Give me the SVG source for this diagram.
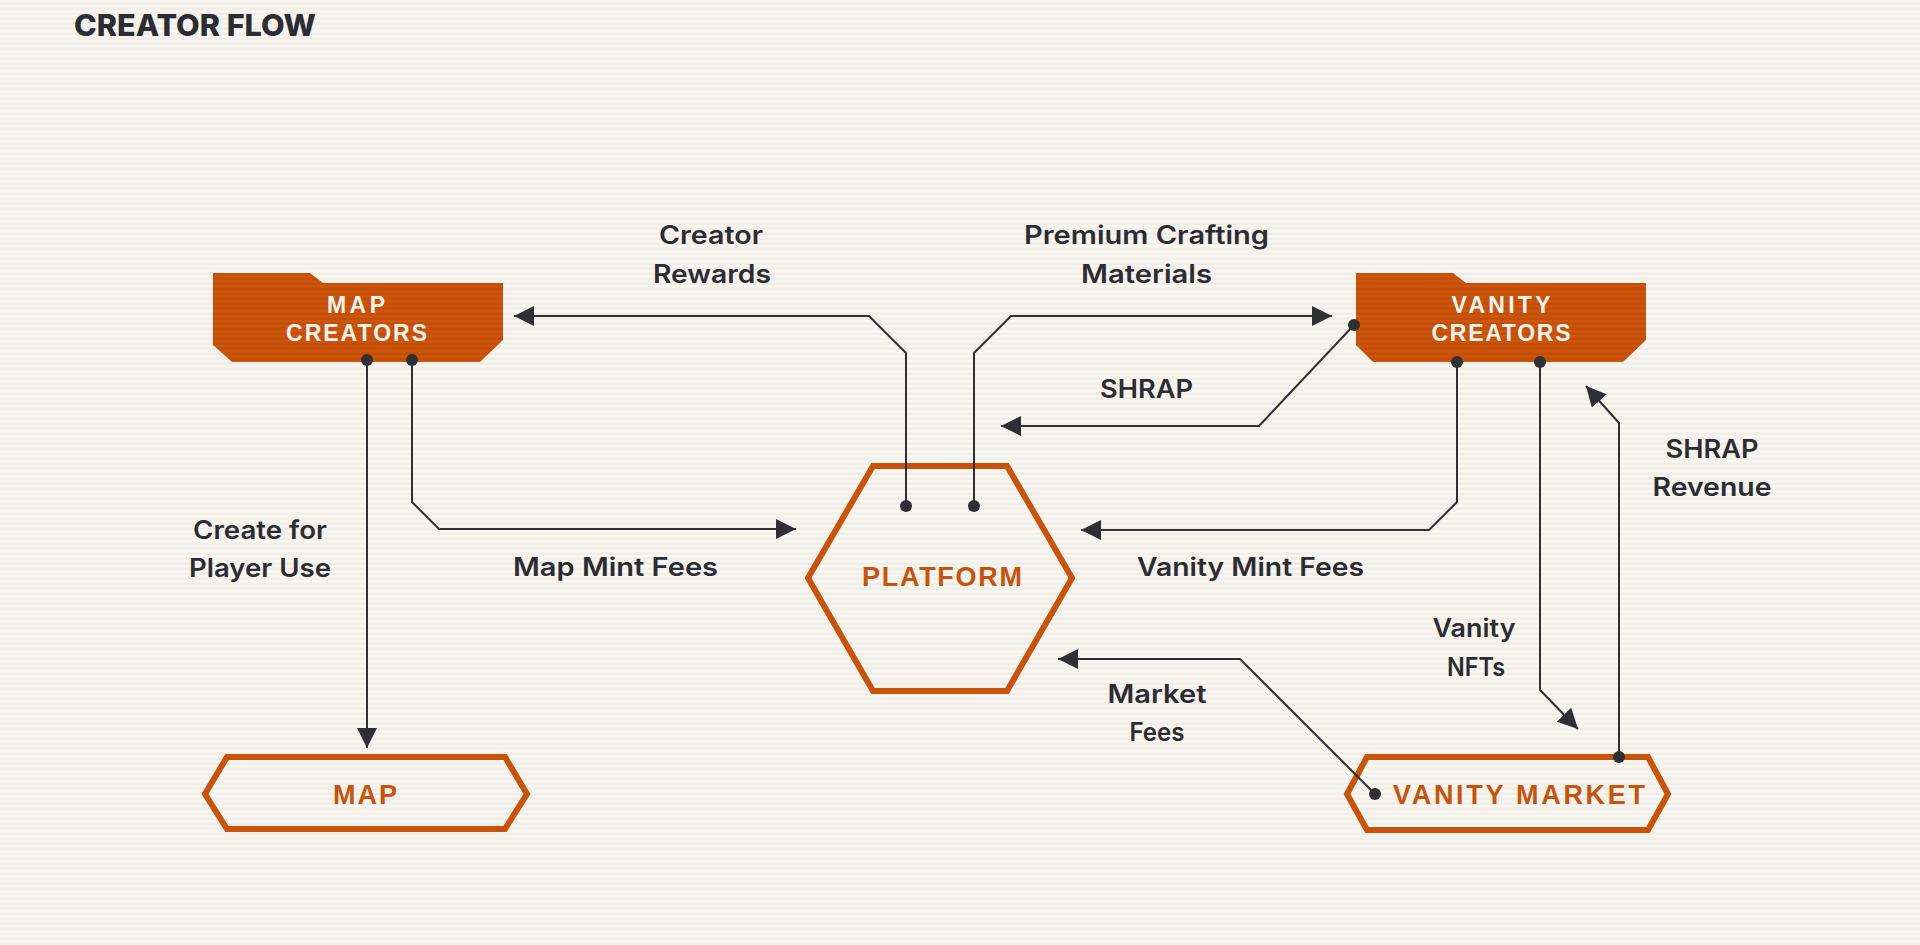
<svg xmlns="http://www.w3.org/2000/svg" width="1920" height="945" viewBox="0 0 1920 945">
  <defs>
    <pattern id="bg" width="8" height="5" patternUnits="userSpaceOnUse">
      <rect width="8" height="5" fill="#f1eee8"/>
      <rect y="0" width="8" height="2.5" fill="#f8f6f1"/>
    </pattern>
    <pattern id="or" width="8" height="5" patternUnits="userSpaceOnUse">
      <rect width="8" height="5" fill="#c44e07"/>
      <rect y="0" width="8" height="2.5" fill="#cb560c"/>
    </pattern>
    <marker id="arr" markerUnits="userSpaceOnUse" markerWidth="20" markerHeight="20" refX="20" refY="10" orient="auto" viewBox="0 0 20 20">
      <path d="M0,0 L20,10 L0,20 Z" fill="#2f3033"/>
    </marker>
    <style>
      .lbl { font-family: "Inter", "Liberation Sans", sans-serif; font-weight: 600; font-size: 25px; fill: #2b2d32; text-anchor: middle; }
      .ttl { font-family: "Inter", "Liberation Sans", sans-serif; font-weight: 800; font-size: 30px; fill: #2b2d32; }
      .wt { font-family: "Liberation Sans", sans-serif; font-weight: 700; font-size: 23px; fill: #fbf4ee; text-anchor: middle; }
      .ot { font-family: "Liberation Sans", sans-serif; font-weight: 700; font-size: 27px; fill: #c9530b; text-anchor: middle; }
      .hex { fill: none; stroke: #c9530b; stroke-width: 6; stroke-linejoin: miter; }
      .box { fill: url(#or); }
      .cn { fill: none; stroke: #2f3033; stroke-width: 2; }
      .dot { fill: #2f3033; }
    </style>
  </defs>

  <rect width="1920" height="945" fill="url(#bg)"/>

  <text class="ttl" x="74" y="36" textLength="242" lengthAdjust="spacingAndGlyphs">CREATOR FLOW</text>

  <g id="map-creators">
    <polygon class="box" points="213,273 310,273 323,283 503,283 503,340 480,362 232,362 213,345"/>
    <text class="wt" x="356" y="313" textLength="58" lengthAdjust="spacing">MAP</text>
    <text class="wt" x="356.5" y="341" textLength="141" lengthAdjust="spacing">CREATORS</text>
  </g>

  <g id="vanity-creators">
    <polygon class="box" points="1356,273 1453,273 1466,283 1646,283 1646,340 1623,362 1373,362 1356,345"/>
    <text class="wt" x="1501" y="313" textLength="99" lengthAdjust="spacing">VANITY</text>
    <text class="wt" x="1501" y="341" textLength="139" lengthAdjust="spacing">CREATORS</text>
  </g>

  <g id="platform">
    <polygon class="hex" points="873,466 1007,466 1072,578 1007,691 873,691 808,578"/>
    <text class="ot" x="942" y="586" textLength="160" lengthAdjust="spacing">PLATFORM</text>
  </g>

  <g id="map">
    <polygon class="hex" points="227,757 505,757 527,794 505,829 227,829 205,794"/>
    <text class="ot" x="365" y="804" textLength="64" lengthAdjust="spacing">MAP</text>
  </g>

  <g id="vanity-market">
    <polygon class="hex" points="1367,757 1648,757 1668,794 1648,830 1367,830 1347,794"/>
    <text class="ot" x="1519" y="804" textLength="252" lengthAdjust="spacing">VANITY MARKET</text>
  </g>

  <g id="connectors">
    <polyline class="cn" points="906,506 906,353 869,316 514,316" marker-end="url(#arr)"/>
    <circle class="dot" cx="906" cy="506" r="6"/>
    <polyline class="cn" points="974,506 974,353 1011,316 1332,316" marker-end="url(#arr)"/>
    <circle class="dot" cx="974" cy="506" r="6"/>
    <polyline class="cn" points="1354,325 1259,426 1001,426" marker-end="url(#arr)"/>
    <circle class="dot" cx="1354" cy="325" r="6"/>
    <polyline class="cn" points="412,360 412,502 439,529 796,529" marker-end="url(#arr)"/>
    <circle class="dot" cx="412" cy="360" r="6"/>
    <polyline class="cn" points="1457,362 1457,502 1429,530 1081,530" marker-end="url(#arr)"/>
    <circle class="dot" cx="1457" cy="362" r="6"/>
    <polyline class="cn" points="367,360 367,748" marker-end="url(#arr)"/>
    <circle class="dot" cx="367" cy="360" r="6"/>
    <polyline class="cn" points="1375,794 1240,659 1058,659" marker-end="url(#arr)"/>
    <circle class="dot" cx="1375" cy="794" r="6"/>
    <polyline class="cn" points="1540,362 1540,690 1578,729" marker-end="url(#arr)"/>
    <circle class="dot" cx="1540" cy="362" r="6"/>
    <polyline class="cn" points="1619,757 1619,423 1586,386" marker-end="url(#arr)"/>
    <circle class="dot" cx="1619" cy="757" r="6"/>
  </g>

  <g id="labels">
    <text class="lbl" x="711" y="244" textLength="104" lengthAdjust="spacingAndGlyphs">Creator</text>
    <text class="lbl" x="712" y="283" textLength="118" lengthAdjust="spacingAndGlyphs">Rewards</text>
    <text class="lbl" x="1146.5" y="244" textLength="245" lengthAdjust="spacingAndGlyphs">Premium Crafting</text>
    <text class="lbl" x="1146.5" y="283" textLength="131" lengthAdjust="spacingAndGlyphs">Materials</text>
    <text class="lbl" x="1146.5" y="398" textLength="93" lengthAdjust="spacingAndGlyphs">SHRAP</text>
    <text class="lbl" x="260" y="539" textLength="134" lengthAdjust="spacingAndGlyphs">Create for</text>
    <text class="lbl" x="260" y="577" textLength="142" lengthAdjust="spacingAndGlyphs">Player Use</text>
    <text class="lbl" x="615.5" y="576" textLength="205" lengthAdjust="spacingAndGlyphs">Map Mint Fees</text>
    <text class="lbl" x="1250.5" y="576" textLength="227" lengthAdjust="spacingAndGlyphs">Vanity Mint Fees</text>
    <text class="lbl" x="1712" y="458" textLength="93" lengthAdjust="spacingAndGlyphs">SHRAP</text>
    <text class="lbl" x="1712" y="496" textLength="119" lengthAdjust="spacingAndGlyphs">Revenue</text>
    <text class="lbl" x="1474" y="637" textLength="83" lengthAdjust="spacingAndGlyphs">Vanity</text>
    <text class="lbl" x="1476" y="676" textLength="58" lengthAdjust="spacingAndGlyphs">NFTs</text>
    <text class="lbl" x="1157" y="703" textLength="99" lengthAdjust="spacingAndGlyphs">Market</text>
    <text class="lbl" x="1157" y="741" textLength="55" lengthAdjust="spacingAndGlyphs">Fees</text>
  </g>
</svg>
